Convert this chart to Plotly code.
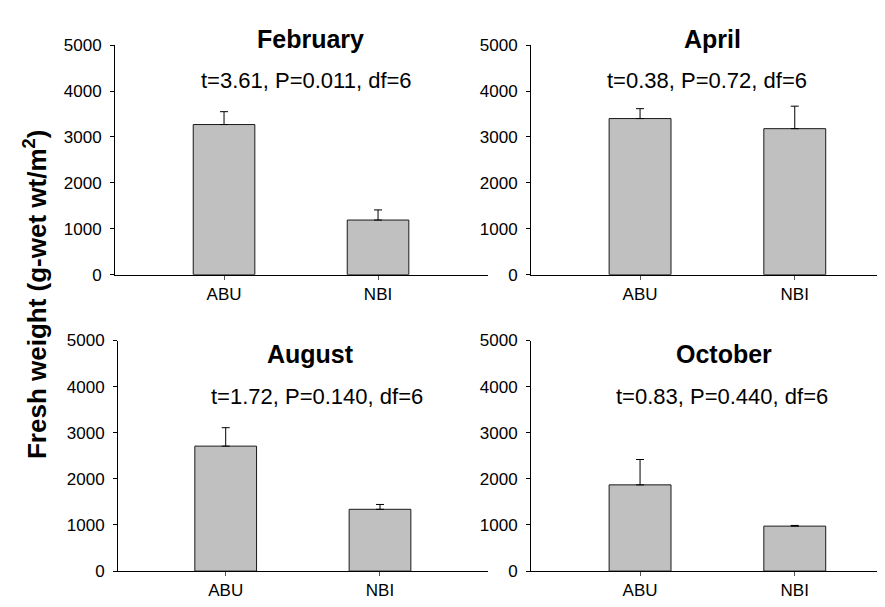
import plotly.graph_objects as go

# ---- data ----
months = ["February", "April", "August", "October"]
categories = ["ABU", "NBI"]
abu_mean = [3270, 3400, 2710, 1870]
nbi_mean = [1190, 3180, 1340, 975]
abu_se = [280, 215, 400, 550]
nbi_se = [220, 490, 105, 15]
stats_text = [
    "t=3.61, P=0.011, df=6",
    "t=0.38, P=0.72, df=6",
    "t=1.72, P=0.140, df=6",
    "t=0.83, P=0.440, df=6",
]
y_ticks = [0, 1000, 2000, 3000, 4000, 5000]
y_title = "Fresh weight (g-wet wt/m<sup>2</sup>)"

W, H = 885, 607
FONT = "Liberation Sans, Arial, sans-serif"

# panel geometry (pixels): x-axis left, x-axis right, y of top (5000), y of bottom (0)
panels = [
    dict(x0=107, x1=480, ytop=29, ybot=266, xr=[-0.708, 1.714]),
    dict(x0=523, x1=885, ytop=29, ybot=266, xr=[-0.705, 1.635]),
    dict(x0=110, x1=480, ytop=334, ybot=572, xr=[-0.698, 1.70]),
    dict(x0=523, x1=885, ytop=334, ybot=572, xr=[-0.705, 1.635]),
]
title_pos = [(302, 23), (704, 23), (302, 348), (716, 348)]
stat_pos = [(298, 66), (699, 66), (309, 392), (714, 392)]

fig = go.Figure()
layout_axes = {}
annotations = []
for i in range(4):
    n = "" if i == 0 else str(i + 1)
    p = panels[i]
    fig.add_trace(go.Bar(
        x=categories,
        y=[abu_mean[i], nbi_mean[i]],
        width=0.4,
        marker=dict(color="#c0c0c0", line=dict(color="#1a1a1a", width=1)),
        error_y=dict(type="data", symmetric=False,
                     array=[abu_se[i], nbi_se[i]], arrayminus=[0, 0],
                     color="#000000", thickness=1, width=4),
        xaxis="x" + n, yaxis="y" + n, showlegend=False,
    ))
    layout_axes["xaxis" + n] = dict(
        domain=[p["x0"] / W, min(p["x1"] / W, 1.0)],
        anchor="y" + n, type="category", range=p["xr"],
        showline=True, linecolor="#000000", linewidth=1,
        ticks="outside", ticklen=4, tickcolor="#555555", tickwidth=1,
        showgrid=False, zeroline=False,
        tickfont=dict(family=FONT, size=17, color="#000000"),
    )
    layout_axes["yaxis" + n] = dict(
        domain=[1 - p["ybot"] / H, 1 - p["ytop"] / H],
        anchor="x" + n, range=[0, 5000],
        tickvals=y_ticks, ticktext=[str(v) for v in y_ticks],
        showline=True, linecolor="#000000", linewidth=1,
        ticks="outside", ticklen=4, tickcolor="#000000", tickwidth=1,
        ticklabelstandoff=5,
        showgrid=False, zeroline=False,
        tickfont=dict(family=FONT, size=17, color="#000000"),
    )
    tx, ty = title_pos[i]
    annotations.append(dict(
        text="<b>" + months[i] + "</b>", x=tx / W, y=1 - ty / H,
        xref="paper", yref="paper", showarrow=False,
        xanchor="center", yanchor="middle",
        font=dict(family=FONT, size=25, color="#000000"),
    ))
    sx, sy = stat_pos[i]
    annotations.append(dict(
        text=stats_text[i], x=sx / W, y=1 - sy / H,
        xref="paper", yref="paper", showarrow=False,
        xanchor="center", yanchor="middle",
        font=dict(family=FONT, size=22, color="#000000"),
    ))

annotations.append(dict(
    text="<b>" + y_title + "</b>", x=27 / W, y=1 - 287 / H,
    xref="paper", yref="paper", showarrow=False, textangle=-90,
    xanchor="center", yanchor="middle",
    font=dict(family=FONT, size=26, color="#000000"),
))

fig.update_layout(
    width=W, height=H,
    margin=dict(l=0, r=0, t=0, b=0),
    paper_bgcolor="#ffffff", plot_bgcolor="#ffffff",
    bargap=0.6,
    annotations=annotations,
    **layout_axes,
)

fig.write_html("out.html")
